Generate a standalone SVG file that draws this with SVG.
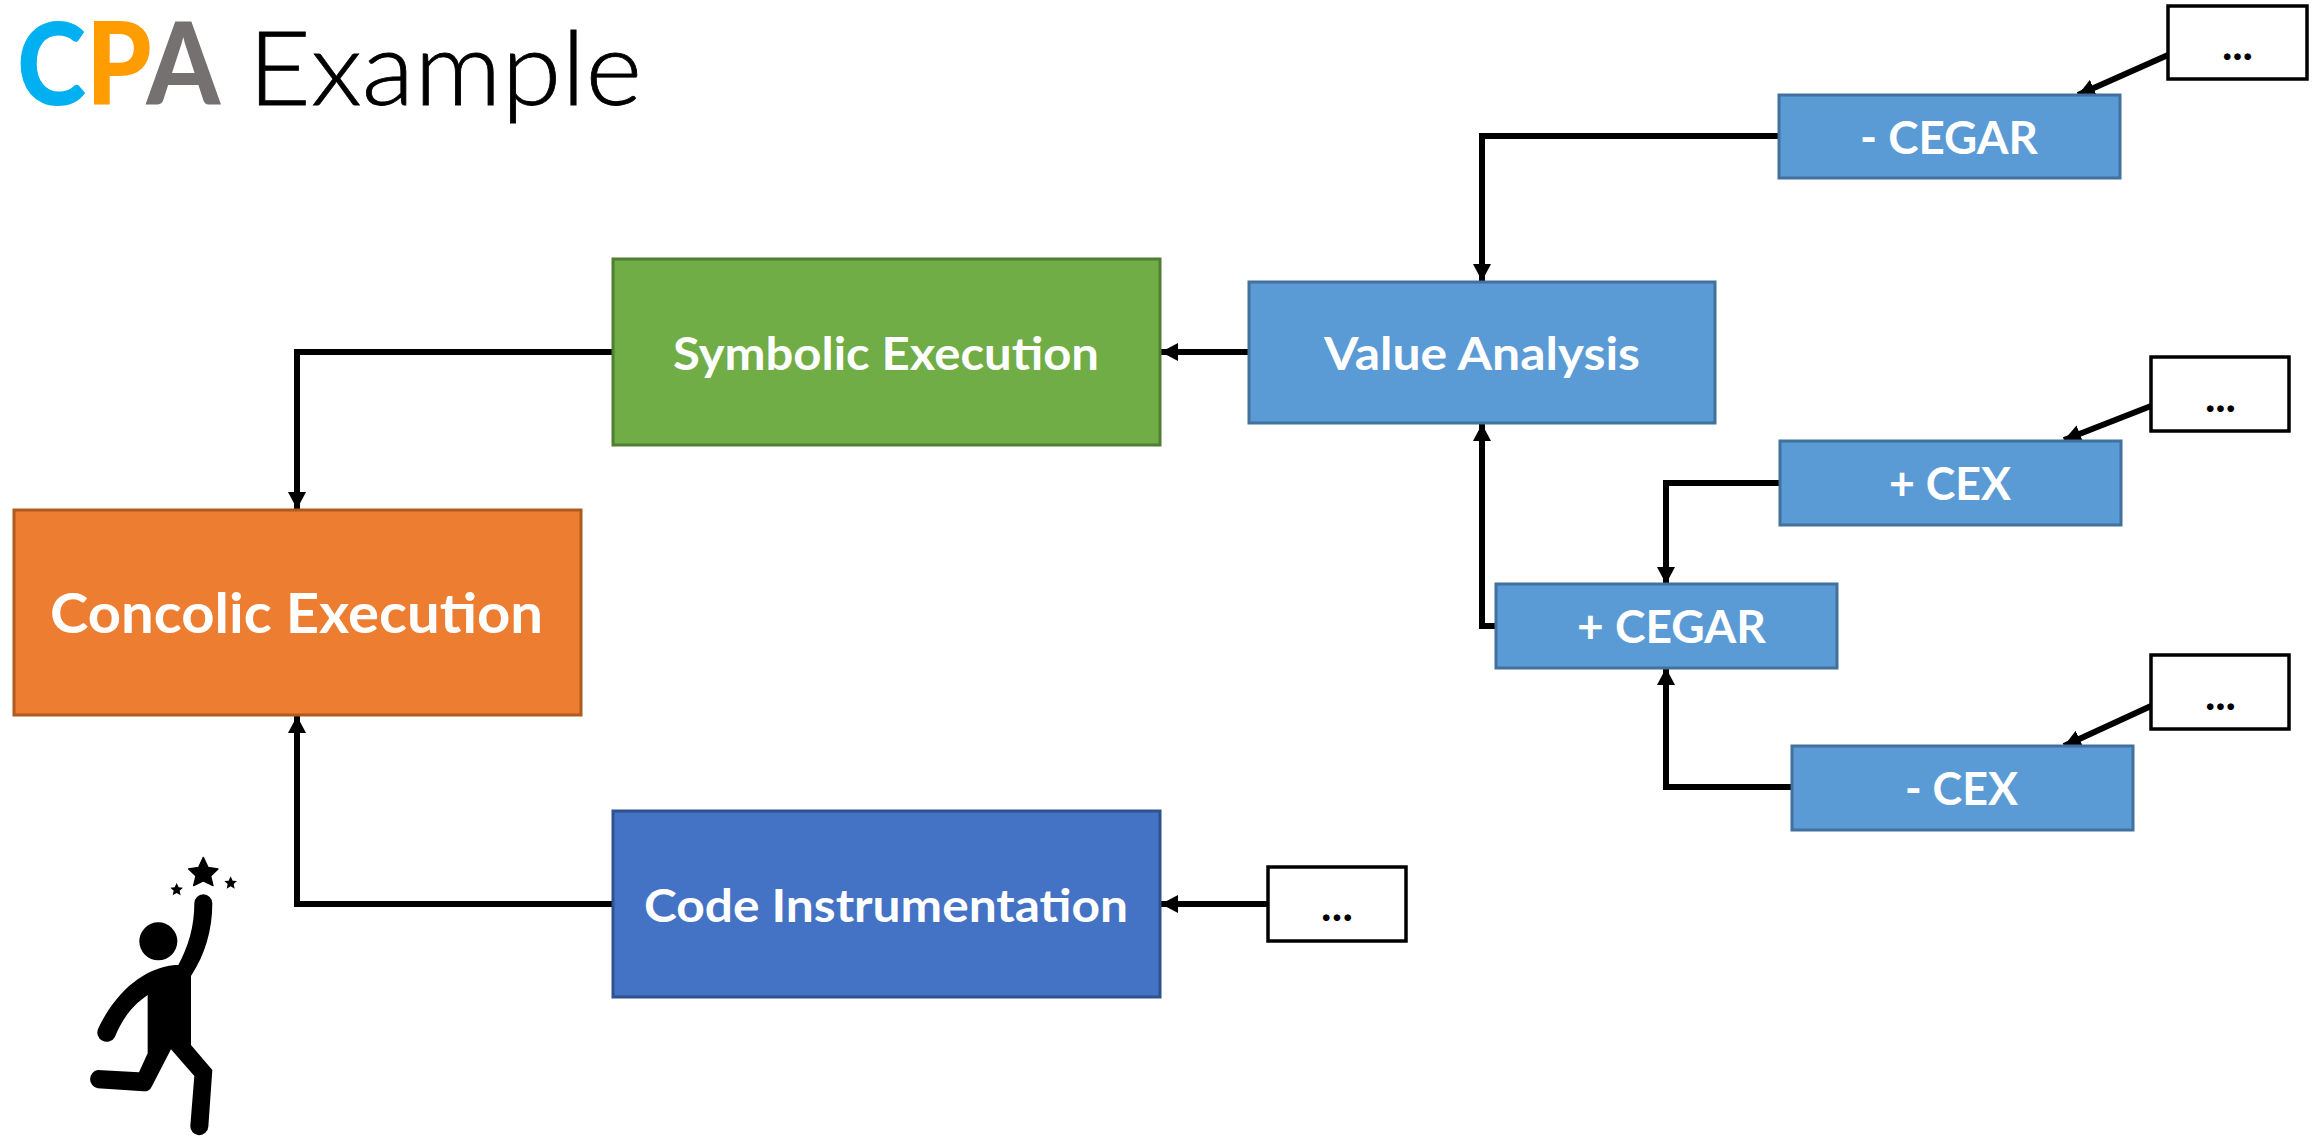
<svg xmlns="http://www.w3.org/2000/svg" width="2323" height="1137" viewBox="0 0 2323 1137">
<style>
text{font-family:"Lato","Carlito","Open Sans",sans-serif}
.l{font-weight:700;fill:#fff;font-size:46px}
.a{fill:#5B9BD5;stroke:#41719C;stroke-width:3}
.w{fill:#fff;stroke:#000;stroke-width:3.5}
.d{font-size:44px;font-weight:700;fill:#000}
.c{fill:none;stroke:#000;stroke-width:6;stroke-linejoin:miter}
.m{marker-end:url(#ah)}
</style>
<defs>
<marker id="ah" markerUnits="userSpaceOnUse" markerWidth="18" markerHeight="18" refX="17" refY="9" orient="auto"><path d="M0,0L17,9L0,18z" fill="#000"/></marker>
</defs>
<rect width="2323" height="1137" fill="#fff"/>
<g id="title">
<text x="17" y="105" font-size="114" style="font-weight:900" textLength="203" lengthAdjust="spacingAndGlyphs"><tspan fill="#00B0F0">C</tspan><tspan fill="#FF9C00">P</tspan><tspan fill="#767171">A</tspan></text>
<text x="248" y="105" font-size="103" font-weight="300" fill="#000" stroke="#000" stroke-width="0.8" textLength="394" lengthAdjust="spacingAndGlyphs">Example</text>
</g>
<g id="connectors">
<path class="c m" d="M1779,136H1482V281"/>
<path class="c m" d="M1248,352H1161"/>
<path class="c m" d="M612,352H297V509"/>
<path class="c m" d="M612,904H297V716"/>
<path class="c m" d="M1267,904H1161"/>
<path class="c m" d="M1496,626H1482V424"/>
<path class="c m" d="M1780,483H1666V584"/>
<path class="c m" d="M1792,787H1666V668"/>
<path class="c m" d="M2168,55L2078,95"/>
<path class="c m" d="M2151,406L2064,440"/>
<path class="c m" d="M2151,706L2064,746"/>
</g>
<g id="concolic"><rect x="14" y="510" width="567" height="205" fill="#ED7D31" stroke="#AE5A21" stroke-width="3"/><text class="l" x="50" y="633" style="font-size:56px" textLength="493" lengthAdjust="spacingAndGlyphs">Concolic Execution</text></g>
<g id="symbolic"><rect x="613" y="259" width="547" height="186" fill="#70AD47" stroke="#507E32" stroke-width="3"/><text class="l" x="673" y="370" textLength="426" lengthAdjust="spacingAndGlyphs">Symbolic Execution</text></g>
<g id="instrumentation"><rect x="613" y="811" width="547" height="186" fill="#4472C4" stroke="#2F528F" stroke-width="3"/><text class="l" x="644" y="922" textLength="484" lengthAdjust="spacingAndGlyphs">Code Instrumentation</text></g>
<g id="value"><rect class="a" x="1249" y="282" width="466" height="141"/><text class="l" x="1324" y="370" textLength="316" lengthAdjust="spacingAndGlyphs">Value Analysis</text></g>
<g id="minus-cegar"><rect class="a" x="1779" y="95" width="341" height="83"/><text class="l" x="1860" y="154" textLength="178" lengthAdjust="spacingAndGlyphs">- CEGAR</text></g>
<g id="plus-cex"><rect class="a" x="1780" y="441" width="341" height="84"/><text class="l" x="1889" y="500" textLength="122" lengthAdjust="spacingAndGlyphs">+ CEX</text></g>
<g id="plus-cegar"><rect class="a" x="1496" y="584" width="341" height="84"/><text class="l" x="1577" y="643" textLength="189" lengthAdjust="spacingAndGlyphs">+ CEGAR</text></g>
<g id="minus-cex"><rect class="a" x="1792" y="746" width="341" height="84"/><text class="l" x="1905" y="805" textLength="113" lengthAdjust="spacingAndGlyphs">- CEX</text></g>
<g id="more1"><rect class="w" x="2168" y="6" width="139" height="73"/><text class="d" x="2222" y="60" textLength="31">...</text></g>
<g id="more2"><rect class="w" x="2151" y="357" width="138" height="74"/><text class="d" x="2205" y="412" textLength="31">...</text></g>
<g id="more3"><rect class="w" x="2151" y="655" width="138" height="74"/><text class="d" x="2205" y="710" textLength="31">...</text></g>
<g id="more4"><rect class="w" x="1268" y="867" width="138" height="74"/><text class="d" x="1321" y="921" textLength="32">...</text></g>
<g id="person" transform="translate(60,840) scale(0.3333)">
<circle cx="295" cy="304" r="57"/>
<path d="M263,465C220,495 190,530 165,590A27,27 0 0 1 115,565C160,470 240,385 345,375L355,375C385,320 403,260 403,190A27,27 0 0 1 457,190C457,270 435,345 393,408L393,615L457,690L445,860A27,27 0 0 1 391,857L403,708L333,628L275,740Q268,755 250,754L113,745A28,28 0 0 1 113,690L237,697L263,640Z"/>
<polygon points="430,52 444,82 474,87 452,108 459,137 430,123 401,137 408,108 386,87 416,82" stroke="#000" stroke-width="4" stroke-linejoin="round"/>
<polygon points="350,129 356,142 369,143 359,152 362,166 350,159 338,166 341,152 331,143 344,142"/>
<polygon points="512,109 518,122 531,123 521,132 524,146 512,139 500,146 503,132 493,123 506,122"/>
</g>
</svg>
